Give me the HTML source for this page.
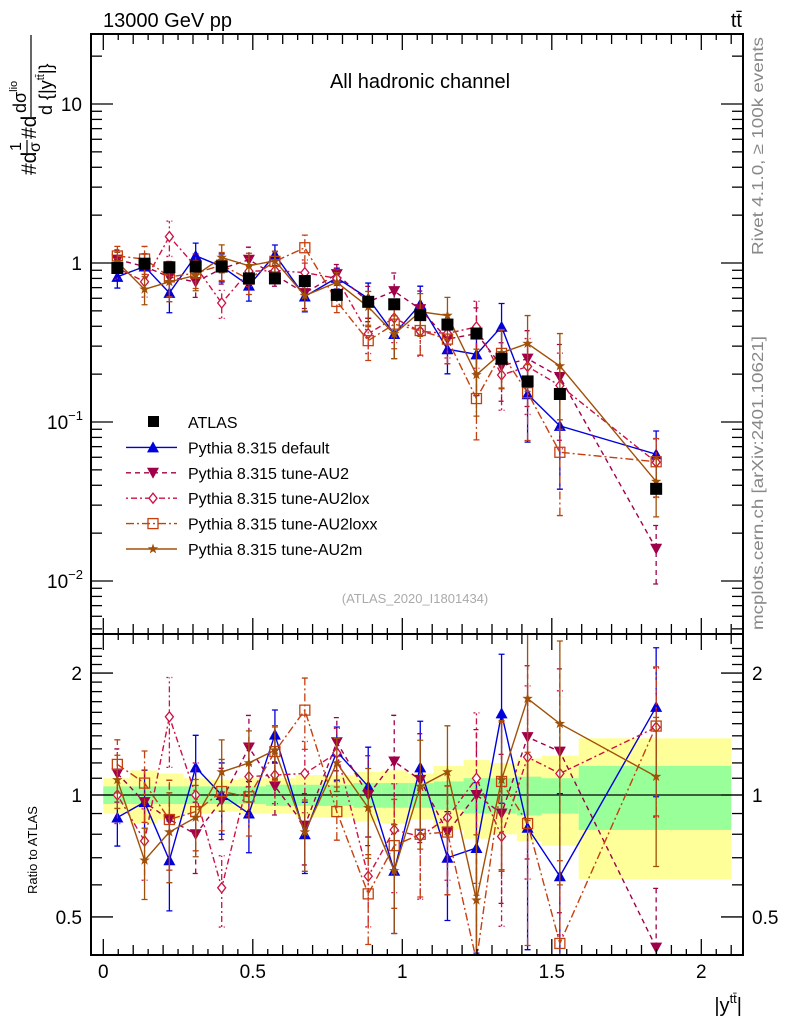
<!DOCTYPE html>
<html><head><meta charset="utf-8">
<style>
html,body{margin:0;background:#fff;width:786px;height:1024px;overflow:hidden}
svg{display:block;font-family:"Liberation Sans","DejaVu Sans",sans-serif}
</style></head>
<body>
<svg id="c" width="786" height="1024" viewBox="0 0 786 1024" xmlns="http://www.w3.org/2000/svg">
<text x="103" y="27" font-size="20">13000 GeV pp</text>
<text x="742" y="27" font-size="20" text-anchor="end">tt̄</text>
<text x="420" y="88" font-size="20" text-anchor="middle">All hadronic channel</text>
<text x="415" y="603" font-size="13" fill="#aaa" text-anchor="middle">(ATLAS_2020_I1801434)</text>
<text transform="translate(763,255) rotate(-90)" font-size="16" fill="#888" textLength="218" lengthAdjust="spacingAndGlyphs">Rivet 4.1.0, ≥ 100k events</text>
<text transform="translate(763,630) rotate(-90)" font-size="16" fill="#888" textLength="294" lengthAdjust="spacingAndGlyphs">mcplots.cern.ch [arXiv:2401.10621]</text>
<g transform="translate(0,175) rotate(-90)">
<text x="0" y="36" font-size="21">#d</text>
<text x="24" y="21" font-size="16">1</text>
<line x1="22" x2="35" y1="27" y2="27" stroke="#000" stroke-width="1.2"/>
<text x="23" y="40" font-size="16">σ</text>
<text x="36" y="36" font-size="21">#d</text>
<text x="62" y="26" font-size="18">dσ<tspan font-size="11" dy="-9">lio</tspan></text>
<line x1="58" x2="140" y1="31" y2="31" stroke="#000" stroke-width="1.2"/>
<text x="60" y="52" font-size="18">d {|y<tspan font-size="11" dy="-8">tt̄</tspan><tspan dy="8">|}</tspan></text>
</g>
<text transform="translate(37,850) rotate(-90)" font-size="13" text-anchor="middle">Ratio to ATLAS</text>
<text x="742" y="1012" font-size="20" text-anchor="end">|y<tspan font-size="13" dy="-9">tt̄</tspan><tspan dy="9">|</tspan></text>
</svg>
<script>
const xCenters=[0.047,0.138,0.221,0.309,0.396,0.487,0.574,0.674,0.781,0.886,0.973,1.060,1.151,1.248,1.332,1.419,1.527,1.849];
const binEdges=[0,0.09,0.181,0.268,0.359,0.453,0.544,0.644,0.745,0.836,0.93,1.02,1.104,1.205,1.292,1.383,1.466,1.59,2.1];
const atlas=[0.93,0.99,0.94,0.95,0.95,0.80,0.80,0.77,0.63,0.57,0.55,0.47,0.41,0.36,0.25,0.18,0.15,0.038];
const statErr=[0.05,0.05,0.05,0.05,0.05,0.05,0.06,0.06,0.06,0.07,0.07,0.07,0.08,0.10,0.10,0.11,0.10,0.18];
const totErr=[0.10,0.15,0.13,0.10,0.09,0.10,0.10,0.12,0.12,0.14,0.15,0.13,0.18,0.22,0.20,0.23,0.25,0.38];
const ratioDefault=[0.88,0.96,0.69,1.17,1.0,0.90,1.41,0.80,1.28,1.05,0.65,1.17,0.70,0.74,1.59,0.83,0.63,1.65];
const ratioAU2=[1.13,0.96,0.87,0.80,0.97,1.31,1.05,0.84,1.35,1.0,1.21,1.09,0.81,1.0,0.90,1.39,1.28,0.42];
const ratioAU2lox=[1.0,0.77,1.56,1.0,0.59,1.11,1.12,1.13,1.27,0.63,0.82,0.79,0.88,1.10,0.79,1.24,1.13,1.47];
const ratioAU2loxx=[1.19,1.07,0.87,0.91,1.02,0.99,1.28,1.62,0.91,0.57,0.75,0.80,0.81,0.39,1.08,0.85,0.43,1.48];
const ratioAU2m=[1.09,0.69,0.81,0.88,1.14,1.20,1.29,0.81,1.20,0.93,0.65,1.05,1.14,0.55,1.09,1.73,1.50,1.11];
const mcErr=[0.15,0.2,0.25,0.2,0.2,0.2,0.15,0.2,0.15,0.25,0.3,0.3,0.3,0.45,0.4,0.5,0.6,0.4];

const NS='http://www.w3.org/2000/svg';
const svg=document.getElementById('c');
const L=91,R=743,T=34,MB=634,RB=955;
const X=v=>103.3+v*299;
const Y=v=>104+(1-Math.log10(v))*159;
const RY=v=>795-Math.log10(v)*405;
function mk(tag,attrs,parent){const e=document.createElementNS(NS,tag);for(const k in attrs)e.setAttribute(k,attrs[k]);(parent||svg).appendChild(e);return e;}

const defs=mk('defs',{});
const c1=mk('clipPath',{id:'cm'},defs);mk('rect',{x:L,y:T,width:R-L,height:MB-T},c1);
const c2=mk('clipPath',{id:'cr'},defs);mk('rect',{x:L,y:MB,width:R-L,height:RB-MB},c2);

const gb=mk('g',{'clip-path':'url(#cr)'});


for(let i=0;i<atlas.length;i++){
  const x0=X(binEdges[i]),x1=X(binEdges[i+1]);
  const y=mk('rect',{x:x0,y:RY(1+totErr[i]),width:x1-x0,height:RY(1-totErr[i])-RY(1+totErr[i]),fill:'#ffff99'},gb);
  
  
  const g=mk('rect',{x:x0,y:RY(1+statErr[i]),width:x1-x0,height:RY(1-statErr[i])-RY(1+statErr[i]),fill:'#99ff99'},gb);
  
  
}
mk('line',{x1:L,x2:R,y1:RY(1),y2:RY(1),stroke:'#000','stroke-width':1.3});

const series=[
 {name:'Pythia 8.315 default',r:ratioDefault,col:'#0000dd',dash:'',m:'tri'},
 {name:'Pythia 8.315 tune-AU2',r:ratioAU2,col:'#a0004a',dash:'5,4',m:'dtri'},
 {name:'Pythia 8.315 tune-AU2lox',r:ratioAU2lox,col:'#cc1144',dash:'2,3,6,3',m:'dia'},
 {name:'Pythia 8.315 tune-AU2loxx',r:ratioAU2loxx,col:'#c44010',dash:'8,3,2,3',m:'sq'},
 {name:'Pythia 8.315 tune-AU2m',r:ratioAU2m,col:'#a05008',dash:'',m:'star'}];

function marker(type,x,y,col,parent){
  if(type==='tri')return mk('path',{d:`M${x-6},${y+5}L${x+6},${y+5}L${x},${y-6}Z`,fill:col},parent);
  if(type==='dtri')return mk('path',{d:`M${x-6},${y-5}L${x+6},${y-5}L${x},${y+6}Z`,fill:col},parent);
  if(type==='dia')return mk('path',{d:`M${x},${y-5}L${x+4},${y}L${x},${y+5}L${x-4},${y}Z`,fill:'#fff',stroke:col,'stroke-width':1.3},parent);
  if(type==='sq')return mk('rect',{x:x-5,y:y-5,width:10,height:10,fill:'none',stroke:col,'stroke-width':1.3},parent);
  if(type==='star'){let p='';for(let k=0;k<10;k++){const a=-Math.PI/2+k*Math.PI/5,rr=k%2?2.2:5.5;p+=(k?'L':'M')+(x+rr*Math.cos(a)).toFixed(1)+','+(y+rr*Math.sin(a)).toFixed(1);}return mk('path',{d:p+'Z',fill:col},parent);}
  if(type==='box')return mk('rect',{x:x-6,y:y-6,width:12,height:12,fill:col},parent);
}

series.forEach((s,si)=>{
  [['cm',i=>Y(s.r[i]*atlas[i]),v=>Y(v)],['cr',i=>RY(s.r[i]),v=>RY(v)]].forEach(([clip,fy,fv],pi)=>{
    const g=mk('g',{'clip-path':`url(#${clip})`});
    
    
    let d='';
    for(let i=0;i<atlas.length;i++){
      const x=X(xCenters[i]);
      const base=pi?s.r[i]:s.r[i]*atlas[i];
      const lo=base*(1-Math.min(mcErr[i],0.9)),hi=base*(1+mcErr[i]);
      const eb=mk('path',{d:`M${x},${fv(lo)}V${fv(hi)}M${x-3},${fv(lo)}h6M${x-3},${fv(hi)}h6`,stroke:s.col,'stroke-width':1.3,'stroke-dasharray':s.dash,fill:'none'},g);
      
      
      d+=(i?'L':'M')+x+','+fy(i);
    }
    const ln=mk('path',{d:d,stroke:s.col,'stroke-width':1.4,fill:'none','stroke-dasharray':s.dash},g);
    
    
    for(let i=0;i<atlas.length;i++){
      const m=marker(s.m,X(xCenters[i]),fy(i),s.col,g);
      
      
    }
  });
});

const ga=mk('g',{'clip-path':'url(#cm)'});


for(let i=0;i<atlas.length;i++){
  const m=marker('box',X(xCenters[i]),Y(atlas[i]),'#000',ga);
  
  
}

const f1=mk('rect',{x:L,y:T,width:R-L,height:MB-T,fill:'none',stroke:'#000','stroke-width':2});


const f2=mk('rect',{x:L,y:MB,width:R-L,height:RB-MB,fill:'none',stroke:'#000','stroke-width':2});



const tk=mk('g',{stroke:'#000','stroke-width':1.3});


for(let k=0;k<=42;k++){
  const v=k*0.05,x=X(v);if(x>R)break;
  const len=k%10===0?16:(k%2===0?10:6);
  [T,MB,RB].forEach((yb,j)=>{
    if(j!==0)mk('line',{x1:x,x2:x,y1:yb,y2:yb-len},tk);
    if(j!==2)mk('line',{x1:x,x2:x,y1:yb,y2:yb+len},tk);
  });
}
const xTicks=[0,0.5,1,1.5,2];
const xTickLabels=['0','0.5','1','1.5','2'];
xTicks.forEach((v,i)=>{const t=mk('text',{x:X(v),y:978,'font-size':19,'text-anchor':'middle'});t.textContent=xTickLabels[i];

});

const yt=mk('g',{stroke:'#000','stroke-width':1.3});


for(let e=-3;e<=2;e++)for(let m=1;m<=9;m++){
  const v=m*Math.pow(10,e),y=Y(v);if(y<T||y>MB)continue;
  const len=m===1?22:11;
  mk('line',{x1:L,x2:L+len,y1:y,y2:y},yt);mk('line',{x1:R,x2:R-len,y1:y,y2:y},yt);
}
[[10,'10'],[1,'1']].forEach(([v,s])=>{const t=mk('text',{x:82,y:Y(v)+7,'font-size':19,'text-anchor':'end'});t.textContent=s;

});
[[0.1,'−1'],[0.01,'−2']].forEach(([v,s])=>{const t=mk('text',{x:83,y:Y(v)+7,'font-size':19,'text-anchor':'end'});t.innerHTML='10<tspan font-size="13" dy="-9">'+s+'</tspan>';

});

const rt=mk('g',{stroke:'#000','stroke-width':1.3});


[0.5,0.6,0.7,0.8,0.9,1,1.1,1.2,1.3,1.4,1.5,1.6,1.7,1.8,1.9,2,2.1,2.2,2.3].forEach(v=>{
  const y=RY(v);if(y<MB||y>RB)return;const len=(v===0.5||v===1||v===2)?22:11;
  mk('line',{x1:L,x2:L+len,y1:y,y2:y},rt);mk('line',{x1:R,x2:R-len,y1:y,y2:y},rt);
});
[[2,'2'],[1,'1'],[0.5,'0.5']].forEach(([v,s])=>{
  [[82,'end'],[752,'start']].forEach(([x,a])=>{const t=mk('text',{x:x,y:RY(v)+7,'font-size':19,'text-anchor':a});t.textContent=s;
  
  });
});

const lg=mk('g',{});


const rows=[{name:'ATLAS',m:'box',col:'#000',line:false}].concat(series.map(s=>({name:s.name,m:s.m,col:s.col,dash:s.dash,line:true})));
rows.forEach((r,i)=>{
  const y=422+i*25.4;
  const g=mk('g',{},lg);
  
  
  if(r.line)mk('line',{x1:126,x2:177,y1:y,y2:y,stroke:r.col,'stroke-width':1.4,'stroke-dasharray':r.dash},g);
  if(r.m==='box')mk('rect',{x:148,y:y-6,width:11,height:11,fill:'#000'},g);else marker(r.m,153,y,r.col,g);
  const t=mk('text',{x:188,y:y+6,'font-size':16},g);t.textContent=r.name;
});
</script>
</body></html>
